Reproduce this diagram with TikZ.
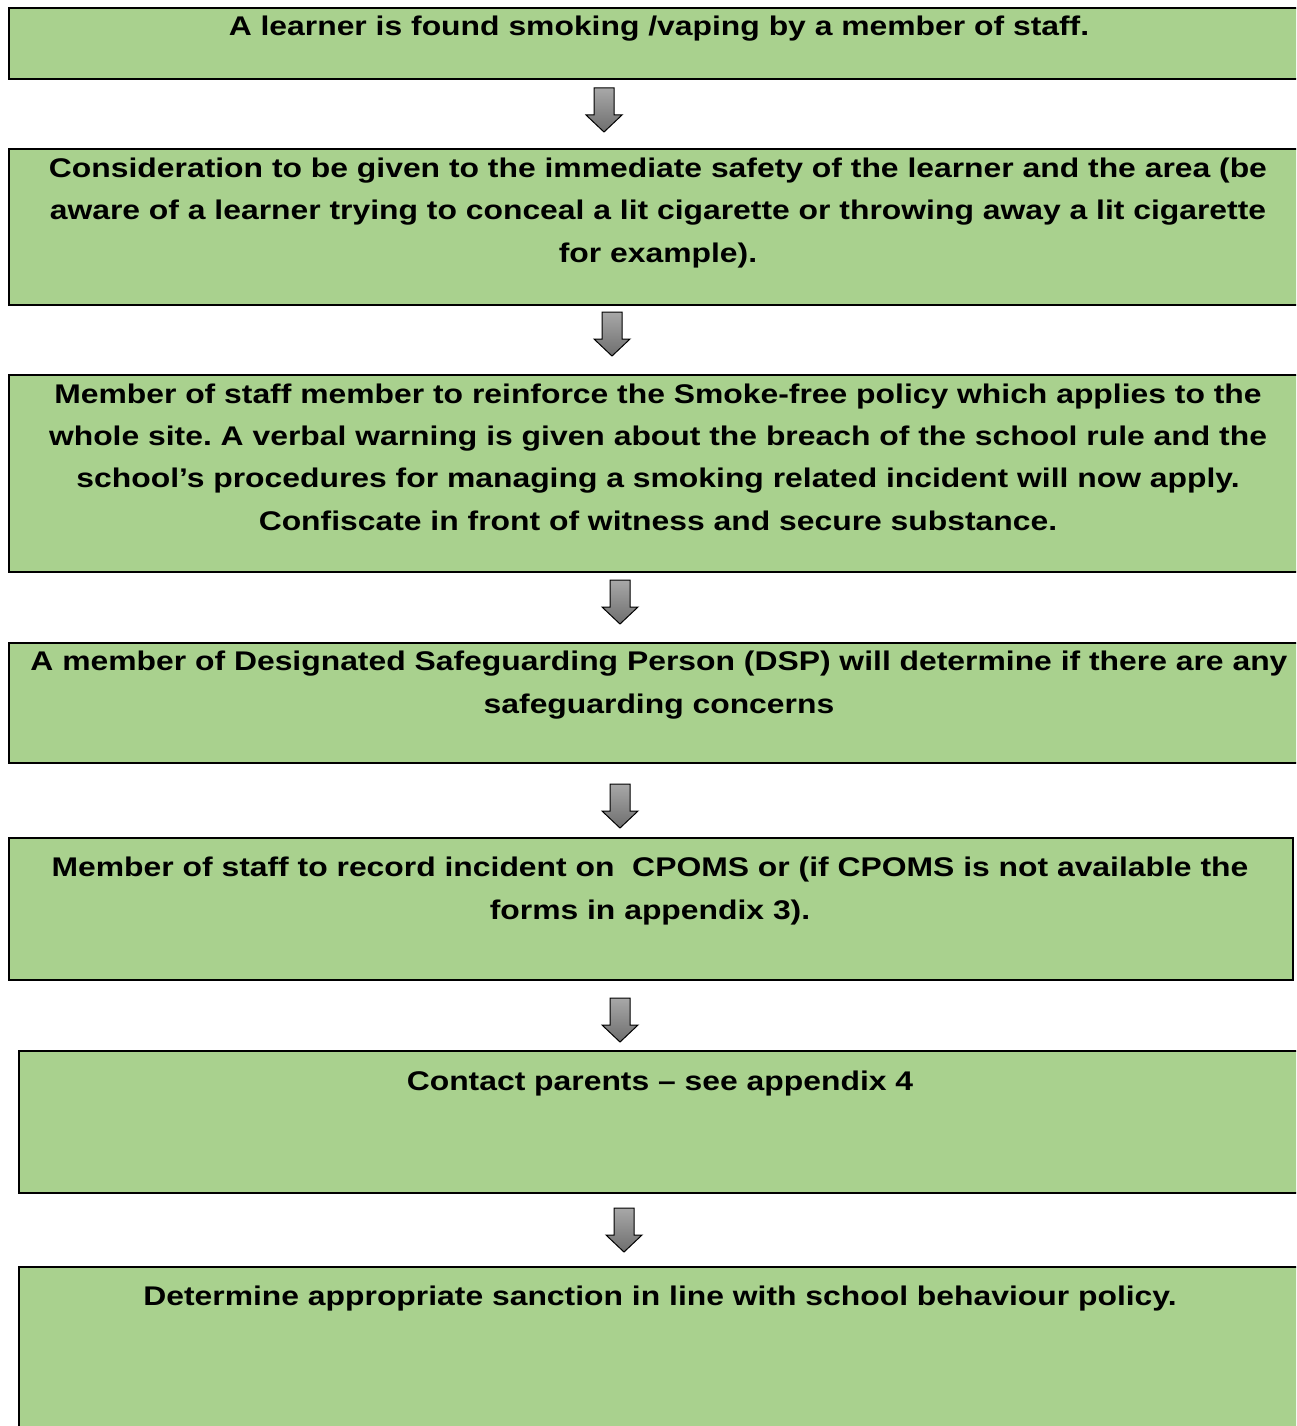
\documentclass[tikz,border=0pt]{standalone}
\usepackage{fontspec}
\setmainfont{Liberation Sans}
\newfontfamily\widesans[FakeStretch=1.18]{Liberation Sans}
\frenchspacing
\definecolor{boxgreen}{HTML}{A9D18E}
\definecolor{arrtop}{HTML}{A8A8A8}
\definecolor{arrbot}{HTML}{6E6E6E}
\tikzset{
  stepbox/.style={draw=black, line width=2pt, fill=boxgreen, rectangle, inner sep=0pt, anchor=north west},
  steptext/.style={font=\widesans\bfseries\fontsize{27}{42.3}\selectfont, align=center, inner sep=0pt, anchor=base},
  downarrow/.style={draw=black, line width=1pt, line join=miter, top color=arrtop, bottom color=arrbot}
}
\newcommand{\dnarrow}[3]{% name, x, ytop
  \coordinate (#1) at (#2,#3);
  \path[downarrow] ([xshift=-10pt]#1) -- ([xshift=10pt]#1) -- ([xshift=10pt,yshift=-27pt]#1)
    -- ([xshift=18pt,yshift=-27pt]#1) -- ([yshift=-44pt]#1) -- ([xshift=-18pt,yshift=-27pt]#1)
    -- ([xshift=-10pt,yshift=-27pt]#1) -- cycle;
}
\begin{document}
\begin{tikzpicture}[x=1pt,y=-1pt]
\path[use as bounding box, clip] (0,0) rectangle (1296,1426);
\fill[white] (0,0) rectangle (1296,1426);
% boxes (text anchor = baseline of last line)
\node[stepbox, minimum width=1302pt, minimum height=71pt] (b1) at (8,7) {};
\node[steptext] (t1) at (659,36) {A learner is found smoking /vaping by a member of staff.};

\node[stepbox, minimum width=1302pt, minimum height=156pt] (b2) at (8,148) {};
\node[steptext] (t2) at (658,262) {Consideration to be given to the immediate safety of the learner and the area (be\\aware of a learner trying to conceal a lit cigarette or throwing away a lit cigarette\\for example).};

\node[stepbox, minimum width=1302pt, minimum height=197pt] (b3) at (8,374) {};
\node[steptext] (t3) at (658,530) {Member of staff member to reinforce the Smoke-free policy which applies to the\\whole site. A verbal warning is given about the breach of the school rule and the\\school’s procedures for managing a smoking related incident will now apply.\\Confiscate in front of witness and secure substance.};

\node[stepbox, minimum width=1302pt, minimum height=120pt] (b4) at (8,642) {};
\node[steptext] (t4) at (659,713) {A member of Designated Safeguarding Person (DSP) will determine if there are any\\safeguarding concerns};

\node[stepbox, minimum width=1284pt, minimum height=142pt] (b5) at (8,837) {};
\node[steptext] (t5) at (650,919) {Member of staff to record incident on\ \ CPOMS or (if CPOMS is not available the\\forms in appendix 3).};

\node[stepbox, minimum width=1300pt, minimum height=142pt] (b6) at (18,1050) {};
\node[steptext] (t6) at (660,1090) {Contact parents – see appendix 4};

\node[stepbox, minimum width=1300pt, minimum height=200pt] (b7) at (18,1266) {};
\node[steptext] (t7) at (660,1305) {Determine appropriate sanction in line with school behaviour policy.};

% arrows
\dnarrow{a1}{604}{88}
\dnarrow{a2}{612}{312}
\dnarrow{a3}{620}{580}
\dnarrow{a4}{620}{784}
\dnarrow{a5}{620}{998}
\dnarrow{a6}{624}{1208}
\end{tikzpicture}
\end{document}
